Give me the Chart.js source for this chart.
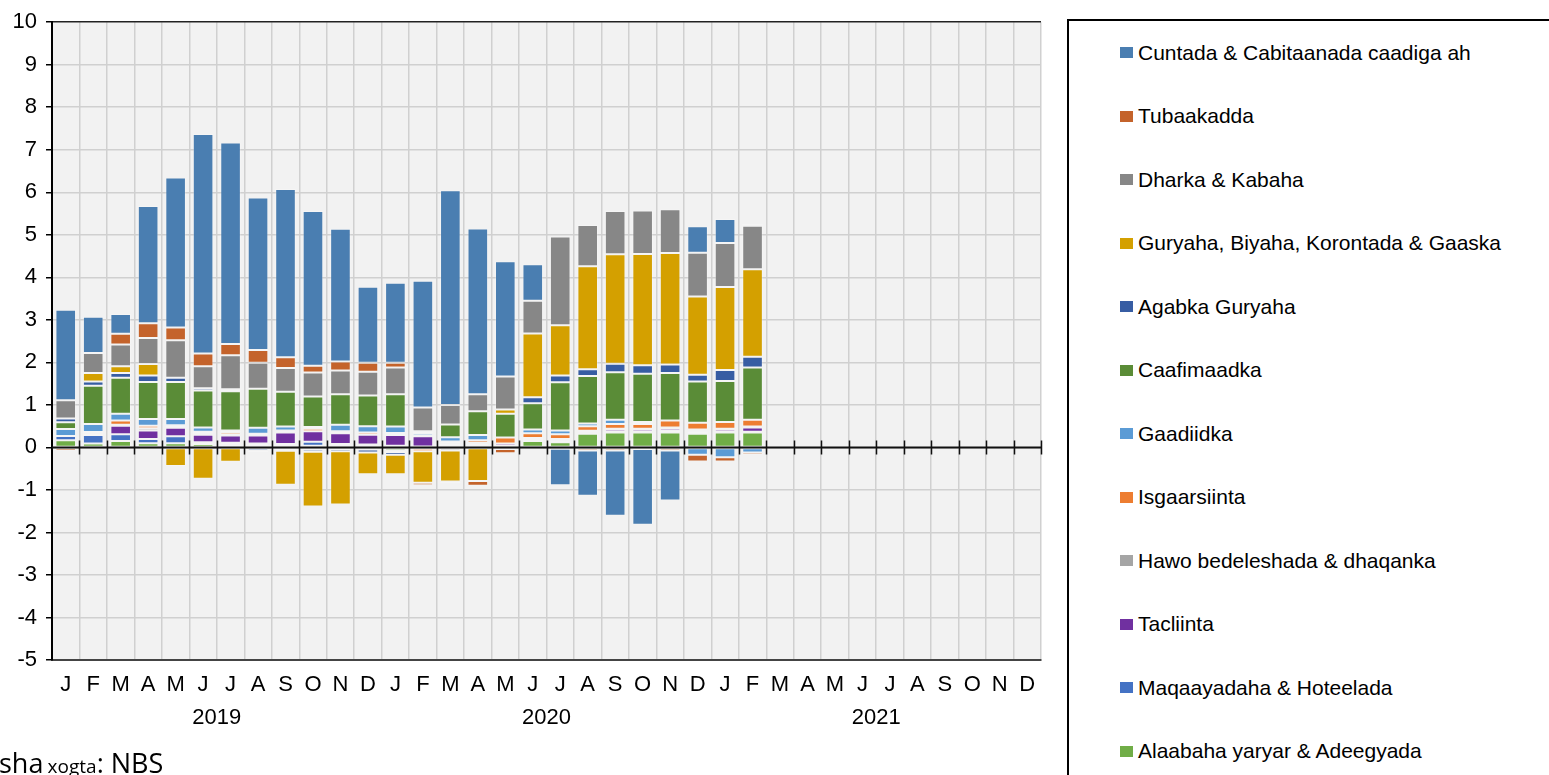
<!DOCTYPE html>
<html>
<head>
<meta charset="utf-8">
<script src="https://cdn.jsdelivr.net/npm/chart.js@4.4.1/dist/chart.umd.min.js"></script>
<style>
  body { margin: 0; background: #fff; width: 1549px; height: 775px; overflow: hidden; position: relative; }
  #wrap { position: absolute; left: 0; top: 0; width: 1060px; height: 775px; }
  #legend { position: absolute; left: 1067px; top: 19px; width: 520px; height: 820px; border: 2px solid #000; box-sizing: border-box; }
  .item { height: 63.5px; display: flex; align-items: center; padding-left: 51px; font: 21px 'Liberation Sans Narrow', 'Liberation Sans', Arial, sans-serif; color: #000; }
  .sw { width: 13px; height: 11px; margin-right: 5px; flex: none; }
  #source { position: absolute; left: -1px; top: 744px; font-family: 'Open Sans', 'Noto Sans', sans-serif; color: #000; white-space: nowrap; }
</style>
</head>
<body>
<div id="wrap"><canvas id="cpi" width="1060" height="775"></canvas></div>
<div id="legend"></div>
<div id="source"><span style="font-size:27px">sha</span> <span style="font-size:19px">xogta</span><span style="font-size:27px">: NBS</span></div>
<script>
const months = ['J','F','M','A','M','J','J','A','S','O','N','D','J','F','M','A','M','J','J','A','S','O','N','D','J','F','M','A','M','J','J','A','S','O','N','D'];
const years = ['2019', '2020', '2021'];

// Jan 2019 .. Feb 2021, contribution in percentage points
const cuntada = [2.13, 0.85, 0.47, 2.76, 3.53, 5.16, 4.74, 3.59, 3.96, 3.64, 3.12, 1.79, 1.88, 2.98, 5.05, 3.9, 2.71, 0.86, -0.86, -1.07, -1.54, -1.78, -1.18, 0.62, 0.56, 0.05];
const tubaakadda = [-0.08, 0, 0.25, 0.35, 0.3, 0.3, 0.26, 0.3, 0.25, 0.16, 0.21, 0.21, 0.11, -0.06, -0.05, -0.11, -0.1, -0.05, -0.03, -0.07, -0.07, -0.04, -0.07, -0.16, -0.1, -0.05];
const dharka = [0.43, 0.47, 0.51, 0.61, 0.88, 0.52, 0.8, 0.61, 0.56, 0.56, 0.56, 0.56, 0.63, 0.56, 0.46, 0.4, 0.78, 0.77, 2.09, 0.97, 1.02, 1.02, 1.03, 1.03, 1.04, 1.02];
const guryaha = [0, 0.2, 0.16, 0.27, -0.44, -0.74, -0.34, -0.05, -0.8, -1.29, -1.25, -0.51, -0.46, -0.74, -0.73, -0.79, 0.1, 1.5, 1.18, 2.42, 2.57, 2.62, 2.62, 1.84, 1.95, 2.06];
const agabka = [0.09, 0.1, 0.11, 0.15, 0.1, 0.05, 0.05, -0.05, -0.05, -0.05, -0.05, -0.07, -0.06, 0, 0, 0, 0, 0.14, 0.16, 0.16, 0.2, 0.2, 0.2, 0.16, 0.26, 0.25];
const caafimaadka = [0.16, 0.9, 0.85, 0.87, 0.87, 0.87, 0.92, 0.92, 0.82, 0.72, 0.72, 0.72, 0.76, 0.05, 0.3, 0.56, 0.56, 0.62, 1.13, 1.12, 1.12, 1.13, 1.12, 0.97, 0.96, 1.23];
const gaadiidka = [0.16, 0.19, 0.16, 0.16, 0.15, 0.1, 0.05, 0.14, 0.09, 0.04, 0.15, 0.15, 0.15, 0.05, 0.1, 0.12, 0, 0.09, 0.09, 0.06, 0.1, 0.05, 0, -0.17, -0.23, -0.12];
const isgaarsiinta = [0, 0.02, 0.1, 0.06, 0.04, 0.05, 0.05, 0.04, 0.05, 0.06, 0.05, 0.05, 0.05, -0.06, 0.04, 0.06, 0.14, 0.11, 0.11, 0.11, 0.11, 0.11, 0.16, 0.16, 0.16, 0.16];
const hawo = [0, 0.02, 0.02, 0.05, 0.02, 0.02, 0.02, -0.02, -0.03, -0.05, -0.04, -0.05, -0.04, 0.02, -0.07, 0.02, -0.04, 0.02, 0.03, 0.02, 0.02, 0.02, 0.02, 0.02, 0.02, 0.02];
const tacliinta = [0, 0.03, 0.2, 0.2, 0.2, 0.18, 0.17, 0.19, 0.27, 0.25, 0.25, 0.23, 0.25, 0.24, 0.05, 0.04, 0.05, 0.05, 0, 0.02, 0.05, 0.05, 0.05, 0.03, 0.05, 0.1];
const maqaayadaha = [0.1, 0.2, 0.16, 0.1, 0.16, 0.04, 0.05, 0.04, 0.03, 0.09, 0.04, 0.03, 0.04, 0.02, 0.03, 0.03, 0.04, 0, 0.05, 0.03, 0.02, 0.02, 0.05, 0.05, 0.02, 0.02];
const alaabaha = [0.17, 0.09, 0.15, 0.1, 0.1, 0.08, 0.06, 0.05, 0.05, 0.04, 0.04, 0.04, -0.07, -0.03, 0.02, 0.02, 0, 0.15, 0.12, 0.32, 0.35, 0.35, 0.35, 0.32, 0.35, 0.35];

// legend order, top to bottom
const series = [
  ['Cuntada & Cabitaanada caadiga ah', cuntada, '#4A7EB1'],
  ['Tubaakadda', tubaakadda, '#C4632B'],
  ['Dharka & Kabaha', dharka, '#878787'],
  ['Guryaha, Biyaha, Korontada & Gaaska', guryaha, '#D4A000'],
  ['Agabka Guryaha', agabka, '#375DA3'],
  ['Caafimaadka', caafimaadka, '#5A8C37'],
  ['Gaadiidka', gaadiidka, '#5B9BD5'],
  ['Isgaarsiinta', isgaarsiinta, '#ED7D31'],
  ['Hawo bedeleshada & dhaqanka', hawo, '#A5A5A5'],
  ['Tacliinta', tacliinta, '#7030A0'],
  ['Maqaayadaha & Hoteelada', maqaayadaha, '#4472C4'],
  ['Alaabaha yaryar & Adeegyada', alaabaha, '#70AD47']
];

const FONT = "'Liberation Sans Narrow', 'Liberation Sans', Arial, sans-serif";

// stack from the bottom up, so the last legend entry goes first
const datasets = series.slice().reverse().map(([label, data, color]) => ({
  label: label,
  data: data,
  backgroundColor: color,
  borderColor: 'rgba(255,255,255,0.25)',
  borderWidth: ctx => (ctx.raw ? 1 : 0),
  borderSkipped: false,
  barPercentage: 0.75,
  categoryPercentage: 1
}));

const plotBg = {
  id: 'plotBg',
  beforeDraw(chart) {
    const { ctx, chartArea: a } = chart;
    ctx.save();
    ctx.fillStyle = '#F2F2F2';
    ctx.fillRect(a.left, a.top, a.right - a.left, a.bottom - a.top);
    ctx.restore();
  }
};

// zero line with its small ticks, on top of the bars
const zeroLine = {
  id: 'zeroLine',
  afterDatasetsDraw(chart) {
    const { ctx, chartArea: a, scales } = chart;
    const y0 = scales.y.getPixelForValue(0);
    const step = (a.right - a.left) / months.length;
    ctx.save();
    ctx.strokeStyle = '#111';
    ctx.lineWidth = 2;
    ctx.beginPath();
    ctx.moveTo(a.left, y0);
    ctx.lineTo(a.right, y0);
    ctx.stroke();
    ctx.lineWidth = 1.5;
    ctx.beginPath();
    for (let i = 1; i <= months.length; i++) {
      const x = Math.round(a.left + i * step) + 0.5;
      ctx.moveTo(x, y0 - 7);
      ctx.lineTo(x, y0 + 7);
    }
    ctx.stroke();
    ctx.restore();
  }
};

new Chart(document.getElementById('cpi'), {
  type: 'bar',
  data: { labels: months, datasets: datasets },
  plugins: [plotBg, zeroLine],
  options: {
    responsive: false,
    animation: false,
    devicePixelRatio: 1,
    layout: { padding: { top: 20, right: 19, left: 0, bottom: 0 } },
    plugins: { legend: { display: false }, tooltip: { enabled: false } },
    scales: {
      x: {
        stacked: true,
        offset: true,
        grid: {
          offset: true,
          drawTicks: false,
          lineWidth: 1.5,
          color: ctx => (ctx.index === months.length ? '#555' : '#D0D0D0')
        },
        border: { display: true, color: '#444', width: 2 },
        ticks: { color: '#000', font: { family: FONT, size: 22 }, padding: 12, maxRotation: 0, autoSkip: false },
        afterFit: s => { s.height = 42; }
      },
      x2: {
        type: 'category',
        labels: years,
        position: 'bottom',
        offset: true,
        grid: { display: false, drawTicks: false },
        border: { display: false },
        ticks: { color: '#000', font: { family: FONT, size: 22 }, padding: 3, maxRotation: 0 },
        afterFit: s => { s.height = 73; }
      },
      y: {
        stacked: true,
        min: -5,
        max: 10,
        ticks: { stepSize: 1, color: '#000', font: { family: FONT, size: 22 }, padding: 9 },
        grid: {
          lineWidth: 1.5,
          tickLength: 6,
          tickColor: '#000',
          color: ctx => {
            const v = ctx.tick && ctx.tick.value;
            return (v === 10 || v === -5) ? '#222' : '#D0D0D0';
          }
        },
        border: { display: true, color: '#000', width: 2 },
        afterFit: s => { s.width = 52; }
      }
    }
  }
});

const legend = document.getElementById('legend');
series.forEach(([label, , color]) => {
  const row = document.createElement('div');
  row.className = 'item';
  const sw = document.createElement('span');
  sw.className = 'sw';
  sw.style.background = color;
  row.appendChild(sw);
  row.appendChild(document.createTextNode(label));
  legend.appendChild(row);
});
</script>
</body>
</html>
